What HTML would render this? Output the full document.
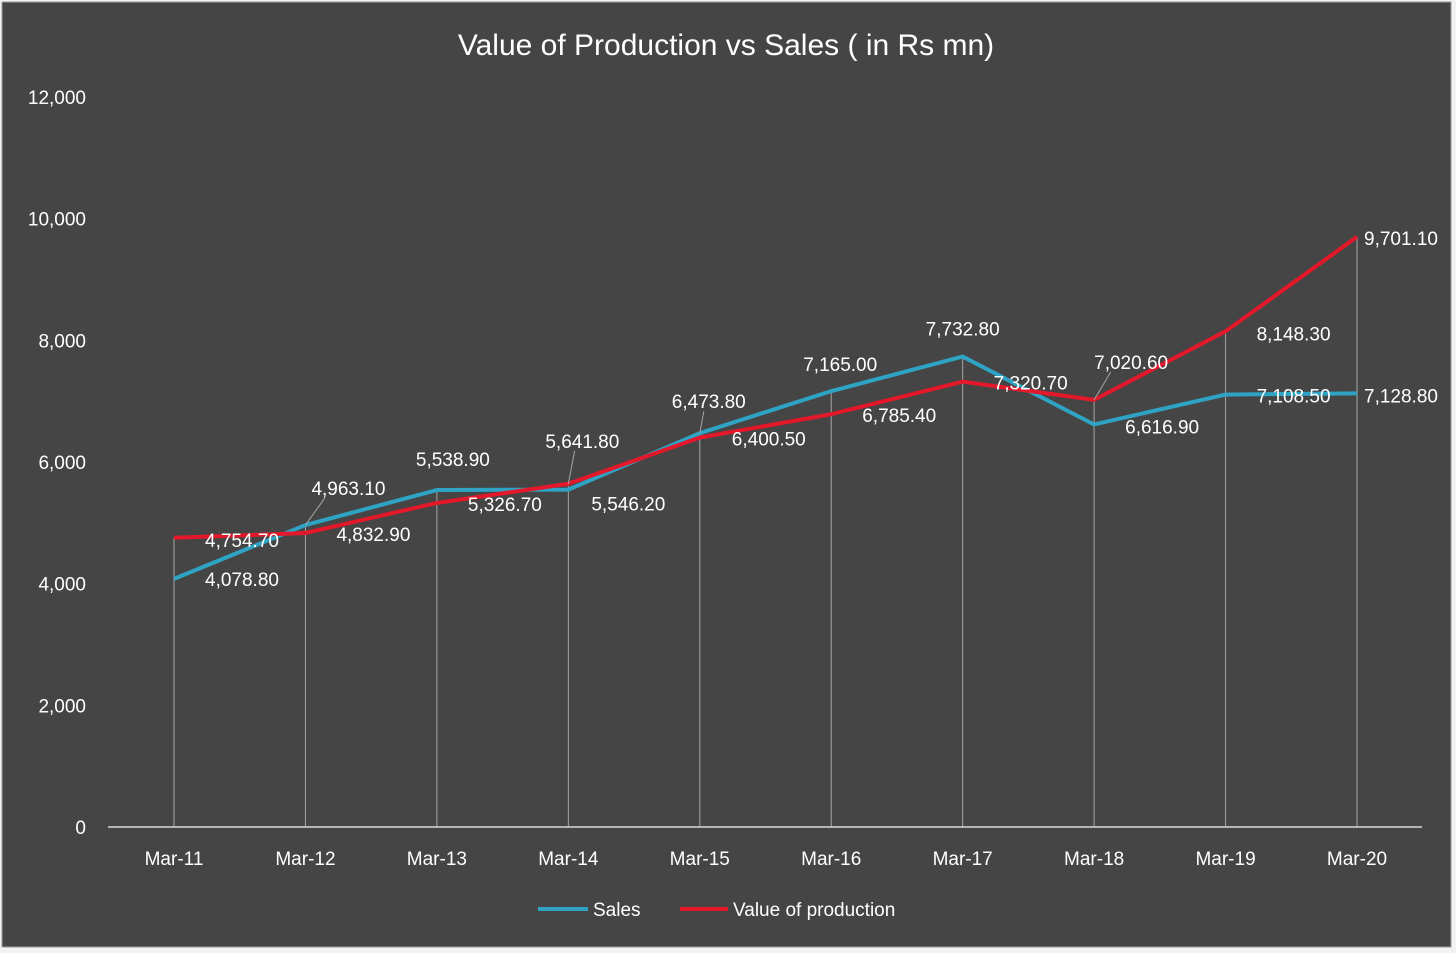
<!DOCTYPE html>
<html><head><meta charset="utf-8"><style>
html,body{margin:0;padding:0;background:#f2f2f2;}
svg{display:block;font-family:"Liberation Sans",sans-serif;}
</style></head><body>
<svg id="chart" width="1456" height="953">
<rect x="2" y="2" width="1449" height="945" fill="#454545" stroke="#999" stroke-width="1"/>
<text x="726" y="55" fill="#fff" font-size="30" text-anchor="middle">Value of Production vs Sales ( in Rs mn)</text>
<g id="grid"></g><g id="series"></g><g id="labels"></g>
<g>
<line x1="538" y1="909" x2="588" y2="909" stroke="#2fa3c4" stroke-width="4"/>
<text x="593" y="916" fill="#fff" font-size="19">Sales</text>
<line x1="680" y1="909" x2="728" y2="909" stroke="#e3182a" stroke-width="4"/>
<text x="733" y="916" fill="#fff" font-size="19">Value of production</text>
</g>
</svg>
<script>
const categories=["Mar-11","Mar-12","Mar-13","Mar-14","Mar-15","Mar-16","Mar-17","Mar-18","Mar-19","Mar-20"];
const sales=[4078.8,4963.1,5538.9,5546.2,6473.8,7165.0,7732.8,6616.9,7108.5,7128.8];
const production=[4754.7,4832.9,5326.7,5641.8,6400.5,6785.4,7320.7,7020.6,8148.3,9701.1];
const yTicks=[0,2000,4000,6000,8000,10000,12000];
const salesLabelOff=[[68,0],[43,-37],[16,-31],[60,14],[9,-32],[9,-27],[0,-28],[68,2],[68,1],[44,2]];
const prodLabelOff=[[68,2],[68,1],[68,1],[14,-43],[69,1],[68,1],[68,1],[37,-38],[68,2],[44,1]];
const NS="http://www.w3.org/2000/svg";
const x=i=>174+i*(1357-174)/9;
const y=v=>827-v*(827-97)/12000;
function mk(tag,attrs,parent,txt){const e=document.createElementNS(NS,tag);for(const k in attrs)e.setAttribute(k,attrs[k]);if(txt!=null)e.textContent=txt;parent.appendChild(e);return e;}
const grid=document.getElementById('grid'),ser=document.getElementById('series'),lab=document.getElementById('labels');
yTicks.forEach(t=>{const e=mk('text',{x:86,y:y(t)+7,fill:'#fff','font-size':19,'text-anchor':'end'},grid,t.toLocaleString('en-US'));

});
categories.forEach((c,i)=>{const top=Math.max(sales[i],production[i]);
const l=mk('line',{x1:x(i),x2:x(i),y1:y(top),y2:y(0),stroke:'#a6a6a6','stroke-width':1},grid);


const t=mk('text',{x:x(i),y:865,fill:'#fff','font-size':19,'text-anchor':'middle'},grid,c);

});
const ax=mk('line',{x1:108,x2:1422,y1:y(0),y2:y(0),stroke:'#d9d9d9','stroke-width':1.5},grid);


function drawSeries(vals,color,name,offs){
const p=mk('polyline',{points:vals.map((v,i)=>x(i)+','+y(v)).join(' '),fill:'none',stroke:color,'stroke-width':4,'stroke-linejoin':'round'},ser);


vals.forEach((v,i)=>{const dx=offs[i][0],dy=offs[i][1];
const lx=x(i)+dx,ly=y(v)+dy;
if(Math.abs(dy)>31.5){const ll=mk('line',{x1:x(i),y1:y(v),x2:x(i)+dx*0.45,y2:ly+10,stroke:'#a6a6a6','stroke-width':1},lab);

}
const t=mk('text',{x:lx,y:ly+7,fill:'#fff','font-size':19,'text-anchor':'middle'},lab,v.toLocaleString('en-US',{minimumFractionDigits:2,maximumFractionDigits:2}));

});}
drawSeries(sales,'#2fa3c4','sales',salesLabelOff);
drawSeries(production,'#e3182a','production',prodLabelOff);
</script>
</body></html>
